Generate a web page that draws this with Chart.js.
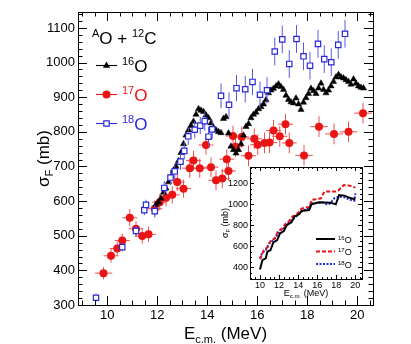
<!DOCTYPE html>
<html>
<head>
<meta charset="utf-8">
<script src="https://cdn.jsdelivr.net/npm/chart.js@4.4.0/dist/chart.umd.min.js"></script>
<style>
  html, body { margin: 0; padding: 0; background: #fff; }
  #wrap { position: relative; width: 411px; height: 344px; }
  #wrap canvas { position: absolute; left: 0; top: 0; }
</style>
</head>
<body>
<div id="wrap">
  <canvas id="main" width="411" height="344"></canvas>
  <canvas id="inset" width="411" height="344"></canvas>
</div>
<script>
// 16O + 12C fusion cross section (no error bars shown, dense points)
var e16 = [11.95, 12.05, 12.15, 12.25, 12.35, 12.45, 12.55, 12.65, 12.75, 12.85, 12.95, 13.05, 13.15, 13.25, 13.35,
  13.45, 13.55, 13.65, 13.75, 13.85, 13.95, 14.05, 14.15, 14.25, 14.35, 14.45, 14.55, 14.65, 14.75, 14.85, 14.95,
  15.05, 15.15, 15.25, 15.35, 15.45, 15.55, 15.65, 15.75, 15.85, 15.95, 16.05, 16.15, 16.25, 16.35, 16.45, 16.55,
  16.65, 16.75, 16.85, 16.95, 17.05, 17.15, 17.25, 17.35, 17.45, 17.55, 17.65, 17.75, 17.85, 17.95, 18.05, 18.15,
  18.25, 18.35, 18.45, 18.55, 18.65, 18.75, 18.85, 18.95, 19.05, 19.15, 19.25, 19.35, 19.45, 19.55, 19.65, 19.75,
  19.85, 19.95, 20.05, 20.15, 20.25];
var s16 = [590, 597, 608, 625, 637, 655, 672, 688, 700, 716, 740, 765, 790, 805, 818,
  830, 850, 866, 862, 858, 848, 840, 825, 812, 805, 800, 797, 838, 843, 796, 758,
  748, 738, 748, 765, 790, 815, 823, 840, 850, 856, 866, 872, 880, 892, 912, 920,
  925, 932, 938, 930, 922, 905, 893, 886, 883, 897, 880, 864, 885, 898, 910, 925,
  918, 910, 926, 940, 922, 912, 920, 932, 945, 958, 965, 958, 955, 950, 945, 937,
  952, 940, 932, 928, 926];

// 17O + 12C
var e17 = [9.85, 10.15, 10.4, 10.6, 10.9, 11.15, 11.4, 11.65, 11.9, 12.1, 12.35, 12.6, 12.8, 13.05, 13.3, 13.45,
  13.7, 13.95, 14.15, 14.35, 14.6, 14.78, 14.85, 15.03, 15.13, 15.38, 15.65, 15.88, 16.02, 16.29, 16.49, 16.65,
  16.9, 17.13, 17.28, 17.87, 18.47, 19.07, 19.65, 20.23];
var s17 = [392, 442, 463, 486, 552, 520, 499, 504, 578, 597, 610, 618, 655, 636, 695, 717,
  695, 762, 698, 660, 665, 721, 687, 788, 757, 785, 731, 780, 763, 768, 769, 804,
  787, 822, 768, 732, 815, 794, 800, 854];
var dE17 = [0.35, 0.3, 0.3, 0.3, 0.3, 0.3, 0.3, 0.3, 0.3, 0.3, 0.3, 0.3, 0.3, 0.3, 0.3, 0.3,
  0.3, 0.3, 0.3, 0.3, 0.3, 0.3, 0.3, 0.3, 0.3, 0.3, 0.3, 0.3, 0.3, 0.3, 0.3, 0.3,
  0.3, 0.3, 0.3, 0.35, 0.35, 0.35, 0.35, 0.35];
var dS17 = [18, 20, 20, 20, 25, 22, 22, 22, 24, 24, 25, 25, 26, 26, 28, 28,
  28, 28, 28, 28, 28, 28, 28, 30, 30, 30, 30, 30, 30, 30, 30, 30,
  30, 30, 30, 30, 30, 30, 30, 30];

// 18O + 12C
var e18 = [9.55, 10.6, 11.15, 11.48, 11.55, 11.9, 12.28, 12.53, 12.7, 12.93, 13.08, 13.24, 13.5, 13.72, 13.9, 14.05,
  14.2, 14.55, 14.87, 15.17, 15.52, 15.81, 16.11, 16.39, 16.7, 17.0, 17.28, 17.57, 17.85, 18.11, 18.43, 18.68,
  18.96, 19.24, 19.51];
var s18 = [321, 467, 514, 574, 589, 571, 638, 668, 686, 714, 745, 787, 806, 818, 831, 786,
  807, 904, 878, 926, 923, 944, 907, 920, 1032, 1067, 996, 1068, 1018, 991, 1054, 1010,
  1001, 1051, 1083];
var dE18 = [0.1, 0.1, 0.1, 0.1, 0.1, 0.1, 0.1, 0.1, 0.1, 0.1, 0.1, 0.1, 0.1, 0.1, 0.1, 0.1,
  0.1, 0.1, 0.1, 0.1, 0.1, 0.1, 0.1, 0.1, 0.1, 0.1, 0.1, 0.1, 0.1, 0.1, 0.1, 0.1,
  0.1, 0.1, 0.1];
var dS18 = [12, 12, 15, 15, 15, 18, 20, 22, 22, 24, 25, 25, 25, 25, 28, 28,
  28, 36, 36, 38, 38, 38, 38, 38, 40, 40, 40, 40, 40, 40, 40, 40,
  40, 40, 40];

// model curves for the inset
var inE16 = [10.0, 10.25, 10.6, 10.77, 11.1, 11.4, 11.8, 12.1, 12.5, 12.8, 13.3, 13.6, 14.1, 14.35, 15.15, 15.4,
  16.2, 17.4, 17.95, 18.3, 18.85, 19.55, 20.0];
var inS16 = [381, 470, 486, 549, 565, 638, 660, 724, 746, 803, 829, 883, 905, 937, 946, 1000,
  1019, 1016, 1000, 1089, 1083, 1057, 1048];
var inE17 = [10.0, 10.4, 10.85, 11.1, 11.55, 11.9, 12.35, 12.7, 13.05, 13.4, 13.85, 14.3, 14.6, 15.2, 15.4, 16.4,
  16.75, 17.95, 18.2, 18.8, 19.4, 20.0];
var inS17 = [479, 565, 597, 651, 676, 746, 771, 819, 841, 883, 905, 956, 968, 975, 1041, 1057,
  1121, 1121, 1130, 1184, 1178, 1159];
var inE18 = [10.0, 10.25, 10.6, 10.95, 11.4, 11.8, 12.2, 12.6, 13.05, 13.5, 13.95, 14.45, 15.0, 15.5, 16.55, 17.0,
  17.3, 17.8, 18.3, 18.85, 19.55, 19.9, 20.0];
var inS18 = [486, 543, 565, 629, 660, 708, 756, 778, 829, 860, 898, 937, 962, 1010, 1019, 1000,
  1005, 1057, 1073, 1067, 1041, 1035, 1105];

// axis ticks
var xTicks = [10, 12, 14, 16, 18, 20];
var yTicks = [300, 400, 500, 600, 700, 800, 900, 1000, 1100];
var inXTicks = [10, 12, 14, 16, 18, 20];
var inYTicks = [400, 600, 800, 1000, 1200];

var FONT = '"Liberation Sans", Arial, Helvetica, sans-serif';
var RED = 'rgb(235,20,20)';
var BLUE = 'rgb(40,40,215)';

Chart.defaults.color = '#000';
Chart.defaults.font.family = FONT;

function pts(xs, ys) {
  return xs.map(function(x, i) { return { x: x, y: ys[i] }; });
}

function plain(v) { return String(v); }

// text made of runs: [string, size, rise]
function richText(ctx, x, y, runs, align) {
  var w = 0;
  runs.forEach(function(r) {
    ctx.font = r[1] + 'px ' + FONT;
    w += ctx.measureText(r[0]).width;
  });
  var cx = align === 'center' ? x - w / 2 : x;
  ctx.textAlign = 'left';
  ctx.textBaseline = 'alphabetic';
  runs.forEach(function(r) {
    ctx.font = r[1] + 'px ' + FONT;
    ctx.fillText(r[0], cx, y - r[2]);
    cx += ctx.measureText(r[0]).width;
  });
}

// box around the plot with inward ticks on all four sides
function drawFrame(chart, o) {
  var ctx = chart.ctx, a = chart.chartArea;
  var xs = chart.scales.x, ys = chart.scales.y;
  ctx.save();
  ctx.strokeStyle = '#000';
  ctx.lineWidth = 1;
  ctx.strokeRect(Math.round(a.left) + 0.5, Math.round(a.top) + 0.5,
    Math.round(a.right - a.left), Math.round(a.bottom - a.top));
  ctx.beginPath();
  var v, p, len;
  for (v = o.xFrom; v <= xs.max + 1e-9; v += o.xMinor) {
    p = Math.round(xs.getPixelForValue(v)) + 0.5;
    len = Math.abs(v / o.xMajor - Math.round(v / o.xMajor)) < 1e-6 ? o.major : o.minor;
    ctx.moveTo(p, a.bottom); ctx.lineTo(p, a.bottom - len);
    ctx.moveTo(p, a.top); ctx.lineTo(p, a.top + len);
  }
  for (v = o.yFrom; v <= ys.max + 1e-9; v += o.yMinor) {
    p = Math.round(ys.getPixelForValue(v)) + 0.5;
    len = Math.abs(v / o.yMajor - Math.round(v / o.yMajor)) < 1e-6 ? o.major : o.minor;
    ctx.moveTo(a.left, p); ctx.lineTo(a.left + len, p);
    ctx.moveTo(a.right, p); ctx.lineTo(a.right - len, p);
  }
  ctx.stroke();
  ctx.restore();
}

function drawMarker(ctx, kind, x, y) {
  ctx.beginPath();
  if (kind === 'tri') {
    ctx.fillStyle = '#000';
    ctx.moveTo(x, y - 4); ctx.lineTo(x + 3.6, y + 2.3); ctx.lineTo(x - 3.6, y + 2.3);
    ctx.closePath(); ctx.fill();
  } else if (kind === 'dot') {
    ctx.fillStyle = RED;
    ctx.arc(x, y, 4, 0, Math.PI * 2); ctx.fill();
  } else {
    ctx.fillStyle = '#fff'; ctx.strokeStyle = BLUE; ctx.lineWidth = 1.2;
    ctx.rect(x - 2.7, y - 2.7, 5.4, 5.4); ctx.fill(); ctx.stroke();
  }
}

var errorBars = {
  id: 'errorBars',
  beforeDatasetDraw: function(chart, args) {
    var ds = chart.data.datasets[args.index];
    if (!ds.err) return;
    var xs = chart.scales.x, ys = chart.scales.y, ctx = chart.ctx;
    ctx.save();
    ctx.strokeStyle = ds.err.color;
    ctx.lineWidth = 1;
    ctx.beginPath();
    ds.data.forEach(function(d, i) {
      var px = xs.getPixelForValue(d.x), py = ys.getPixelForValue(d.y);
      var x0 = xs.getPixelForValue(d.x - ds.err.dx[i]), x1 = xs.getPixelForValue(d.x + ds.err.dx[i]);
      var y0 = ys.getPixelForValue(d.y - ds.err.dy[i]), y1 = ys.getPixelForValue(d.y + ds.err.dy[i]);
      ctx.moveTo(x0, py); ctx.lineTo(x1, py);
      ctx.moveTo(px, y0); ctx.lineTo(px, y1);
    });
    ctx.stroke();
    ctx.restore();
  }
};

var mainDecor = {
  id: 'mainDecor',
  afterDraw: function(chart) {
    var ctx = chart.ctx, a = chart.chartArea;
    drawFrame(chart, { xFrom: 9, xMinor: 0.5, xMajor: 2, yFrom: 300, yMinor: 20, yMajor: 100, major: 9, minor: 4.5 });
    ctx.save();
    ctx.fillStyle = '#000';
    // axis titles
    richText(ctx, (a.left + a.right) / 2, 339, [['E', 17, 0], ['c.m.', 11, -4], [' (MeV)', 17, 0]], 'center');
    ctx.save();
    ctx.translate(49, (a.top + a.bottom) / 2);
    ctx.rotate(-Math.PI / 2);
    richText(ctx, 0, 0, [['\u03c3', 17, 0], ['F', 11, -4], [' (mb)', 17, 0]], 'center');
    ctx.restore();
    // legend
    richText(ctx, 92, 44, [['A', 11, 7], ['O', 17, 0], [' + ', 17, 0], ['12', 11, 7], ['C', 17, 0]], 'left');
    var rows = [[65, 'tri', '#000', '16'], [94, 'dot', RED, '17'], [123, 'sq', BLUE, '18']];
    rows.forEach(function(r) {
      ctx.strokeStyle = r[2];
      ctx.lineWidth = 1.1;
      ctx.beginPath(); ctx.moveTo(96, r[0] + 0.5); ctx.lineTo(117, r[0] + 0.5); ctx.stroke();
      drawMarker(ctx, r[1], 106.5, r[0] + 0.5);
      ctx.fillStyle = r[2];
      richText(ctx, 122, r[0] + 7, [[r[3], 11, 7], ['O', 17, 0]], 'left');
    });
    ctx.restore();
  }
};

new Chart(document.getElementById('main'), {
  type: 'scatter',
  data: {
    datasets: [
      {
        label: '18O', data: pts(e18, s18),
        pointStyle: 'rect', pointRadius: 3.8, pointBorderWidth: 1.2,
        pointBackgroundColor: '#fff', pointBorderColor: BLUE,
        err: { dx: dE18, dy: dS18, color: 'rgb(90,90,225)' }
      },
      {
        label: '16O', data: pts(e16, s16),
        pointStyle: 'triangle', pointRadius: 3.6, pointBorderWidth: 0.5,
        pointBackgroundColor: '#000', pointBorderColor: '#000'
      },
      {
        label: '17O', data: pts(e17, s17),
        pointStyle: 'circle', pointRadius: 4, pointBorderWidth: 0,
        pointBackgroundColor: RED, pointBorderColor: RED,
        err: { dx: dE17, dy: dS17, color: 'rgb(240,80,80)' }
      }
    ]
  },
  options: {
    responsive: false,
    animation: false,
    layout: { padding: { left: 0, right: 38, top: 12, bottom: 0 } },
    plugins: { legend: { display: false }, tooltip: { enabled: false } },
    scales: {
      x: {
        type: 'linear', min: 8.83, max: 20.63,
        afterBuildTicks: function(s) { s.ticks = xTicks.map(function(v) { return { value: v }; }); },
        afterFit: function(s) { s.height = 39; },
        grid: { display: false, drawTicks: false },
        border: { display: false },
        ticks: { font: { size: 13 }, padding: 3, maxRotation: 0, callback: plain }
      },
      y: {
        type: 'linear', min: 300, max: 1146,
        afterBuildTicks: function(s) { s.ticks = yTicks.map(function(v) { return { value: v }; }); },
        afterFit: function(s) { s.width = 78; },
        grid: { display: false, drawTicks: false },
        border: { display: false },
        ticks: { font: { size: 13 }, padding: 3, callback: plain }
      }
    }
  },
  plugins: [errorBars, mainDecor]
});

var insetDecor = {
  id: 'insetDecor',
  beforeDraw: function(chart) {
    var ctx = chart.ctx, a = chart.chartArea;
    ctx.save();
    ctx.fillStyle = '#fff';
    ctx.fillRect(a.left, a.top, a.right - a.left, a.bottom - a.top);
    ctx.restore();
  },
  afterDraw: function(chart) {
    var ctx = chart.ctx, a = chart.chartArea;
    drawFrame(chart, { xFrom: 9, xMinor: 0.5, xMajor: 2, yFrom: 300, yMinor: 50, yMajor: 200, major: 4, minor: 2 });
    ctx.save();
    ctx.fillStyle = '#000';
    richText(ctx, (a.left + a.right) / 2, 296, [['E', 9, 0], ['c.m.', 6, -2], [' (MeV)', 9, 0]], 'center');
    ctx.save();
    ctx.translate(228, (a.top + a.bottom) / 2);
    ctx.rotate(-Math.PI / 2);
    richText(ctx, 0, 0, [['\u03c3', 9, 0], ['F', 6, -2], [' (mb)', 9, 0]], 'center');
    ctx.restore();
    var rows = [[239, '#000', [], '16'], [251.5, RED, [4, 2], '17'], [264, BLUE, [2, 1.5], '18']];
    rows.forEach(function(r) {
      ctx.strokeStyle = r[1];
      ctx.lineWidth = 2;
      ctx.setLineDash(r[2]);
      ctx.beginPath(); ctx.moveTo(316, r[0]); ctx.lineTo(335, r[0]); ctx.stroke();
      ctx.setLineDash([]);
      ctx.fillStyle = '#000';
      richText(ctx, 338, r[0] + 3.5, [[r[3], 6, 3], ['O', 9, 0]], 'left');
    });
    ctx.restore();
  }
};

new Chart(document.getElementById('inset'), {
  type: 'scatter',
  data: {
    datasets: [
      { data: pts(inE16, inS16), showLine: true, borderColor: '#000', borderWidth: 2, pointRadius: 0, fill: false },
      { data: pts(inE17, inS17), showLine: true, borderColor: RED, borderWidth: 2, borderDash: [4, 2], pointRadius: 0, fill: false },
      { data: pts(inE18, inS18), showLine: true, borderColor: BLUE, borderWidth: 2, borderDash: [2, 1.5], pointRadius: 0, fill: false }
    ]
  },
  options: {
    responsive: false,
    animation: false,
    layout: { padding: { left: 210, right: 49, top: 167, bottom: 45 } },
    plugins: { legend: { display: false }, tooltip: { enabled: false } },
    scales: {
      x: {
        type: 'linear', min: 8.95, max: 20.7,
        afterBuildTicks: function(s) { s.ticks = inXTicks.map(function(v) { return { value: v }; }); },
        afterFit: function(s) { s.height = 20; },
        grid: { display: false, drawTicks: false },
        border: { display: false },
        ticks: { font: { size: 9 }, padding: 1, maxRotation: 0, callback: plain }
      },
      y: {
        type: 'linear', min: 290, max: 1355,
        afterBuildTicks: function(s) { s.ticks = inYTicks.map(function(v) { return { value: v }; }); },
        afterFit: function(s) { s.width = 40; },
        grid: { display: false, drawTicks: false },
        border: { display: false },
        ticks: { font: { size: 9 }, padding: 2, callback: plain }
      }
    }
  },
  plugins: [insetDecor]
});
</script>
</body>
</html>
